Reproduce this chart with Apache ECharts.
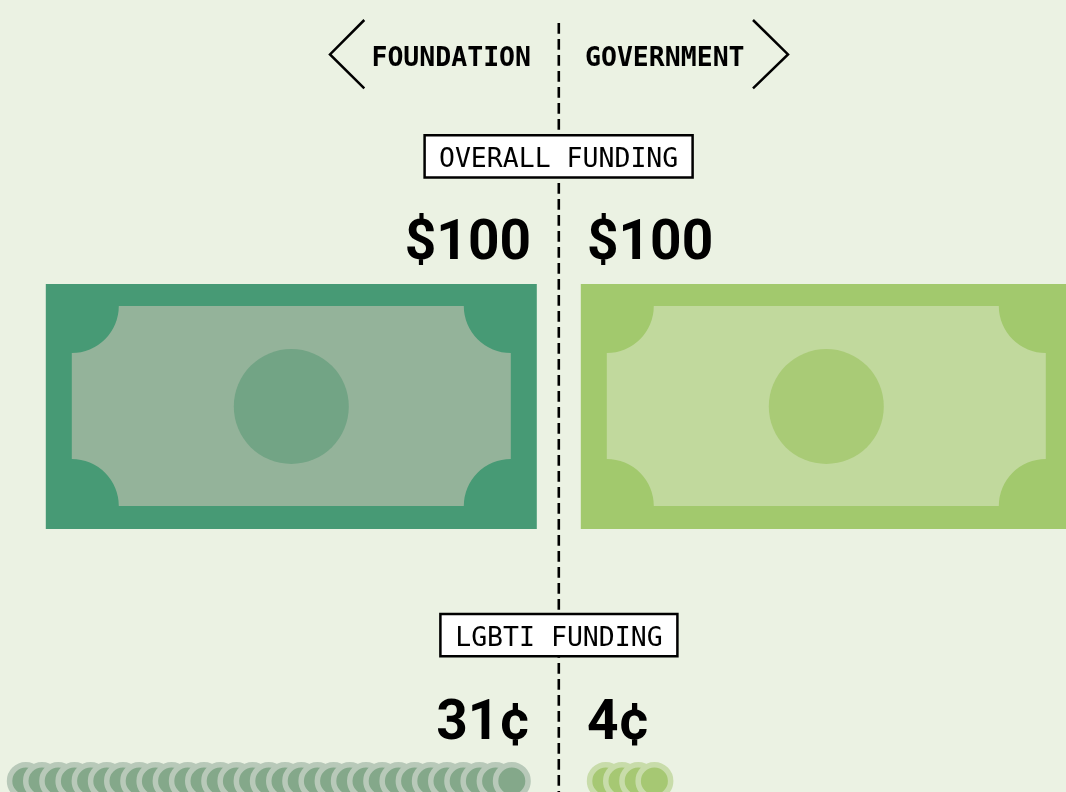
<!DOCTYPE html>
<html>
<head>
<meta charset="utf-8">
<title>Foundation vs government funding</title>
<style>
html,body{margin:0;padding:0;background:#ebf2e3;}
#chart{width:1066px;height:792px;}
</style>
<script src="https://cdn.jsdelivr.net/npm/echarts@6/dist/echarts.min.js"></script>
</head>
<body>
<div id="chart"></div>
<script>
// funders, left then right of the centre line
const funders=['FOUNDATION','GOVERNMENT'];
const sides=[-1,1];
// per $100 of overall funding
const overallDollars=[100,100];
// cents of that going to LGBTI work
const lgbtiCents=[31,4];
const sectionTitles=['OVERALL FUNDING','LGBTI FUNDING'];

const billColors=[
    {paper:'#479a75',inner:'#94b39a',seal:'#72a485'},
    {paper:'#a2c96d',inner:'#c1d99d',seal:'#a9cb76'}
];
const coinColors=[
    {fill:'#84a88a',ring:'#b8c9b9'},
    {fill:'#a6c873',ring:'#c8dcaa'}
];

const W=1066;
const midX=558.8;
const pxPerDollar=4.91;
const pxPerCoin=16.2;
const gapDollars=22/pxPerDollar;
const gapCoins=47/pxPerCoin;

const MONO='"DejaVu Sans Mono","Liberation Mono",monospace';
const ROBOTO='Roboto,sans-serif';

const chart=echarts.init(document.getElementById('chart'),null,{renderer:'canvas'});

// inner panel of a bill, corners bitten out with quarter circles
function panelPath(x,y,w,h,r){
    const arc=(ex,ey)=>`A${r} ${r} 0 0 0 ${ex} ${ey}`;
    return `M${x+r} ${y}L${x+w-r} ${y}${arc(x+w,y+r)}L${x+w} ${y+h-r}${arc(x+w-r,y+h)}`
        +`L${x+r} ${y+h}${arc(x,y+h-r)}L${x} ${y+r}${arc(x+r,y)}Z`;
}

// bills: side*gap out to side*(gap+value), everything inside scales with the width
function renderBill(params,api){
    const side=api.value(0);
    const val=api.value(1);
    const c=billColors[params.dataIndex];
    const a=api.coord([side*gapDollars,0]);
    const b=api.coord([side*(gapDollars+val),0]);
    const x=Math.min(a[0],b[0]);
    const w=Math.abs(a[0]-b[0]);
    const h=api.size([0,1])[1];
    const y=a[1]-h/2;
    const u=w/491;
    return {type:'group',children:[
        {type:'rect',shape:{x,y,width:w,height:h},style:{fill:c.paper}},
        {type:'path',shape:{pathData:panelPath(x+26*u,y+22*u,439*u,200*u,47*u)},style:{fill:c.inner}},
        {type:'circle',shape:{cx:x+w/2,cy:y+h/2,r:57.5*u},style:{fill:c.seal}}
    ]};
}

// one coin per cent, stacked outward from the centre line
function coinData(i){
    const pts=[];
    for(let n=0;n<lgbtiCents[i];n++){
        pts.push([sides[i]*(gapCoins+n),'coins']);
    }
    return pts.sort((p,q)=>p[0]-q[0]);
}

function coinSeries(i){
    return {
        type:'scatter',
        xAxisIndex:1,yAxisIndex:1,
        data:coinData(i),
        symbol:'circle',
        symbolSize:32.5,
        clip:false,
        silent:true,
        itemStyle:{color:coinColors[i].fill,borderColor:coinColors[i].ring,borderWidth:5.5,opacity:1}
    };
}

function txt(x,y,text,font,align){
    return {type:'text',x,y,z:20,style:{text,fill:'#000',font,textAlign:align,textVerticalAlign:'middle'}};
}
function box(x,y,w,h,title,textY){
    return [
        {type:'rect',z:6,shape:{x,y,width:w,height:h},style:{fill:'#fff',stroke:'#000',lineWidth:2.5}},
        txt(x+w/2,textY,title,'normal 26.5px '+MONO,'center')
    ];
}
function chevron(points){
    return {type:'polyline',z:10,shape:{points},style:{fill:null,stroke:'#000',lineWidth:2.5}};
}

const headFont='bold 26.5px '+MONO;
const valueFont='bold 55px '+ROBOTO;

const option={
    backgroundColor:'#ebf2e3',
    animation:false,
    grid:[
        {left:0,top:284,width:W,height:245},
        {left:0,top:770,width:W,height:22}
    ],
    xAxis:[
        {type:'value',gridIndex:0,min:-midX/pxPerDollar,max:(W-midX)/pxPerDollar,show:false},
        {type:'value',gridIndex:1,min:-midX/pxPerCoin,max:(W-midX)/pxPerCoin,show:false}
    ],
    yAxis:[
        {type:'category',gridIndex:0,data:['bill'],show:false},
        {type:'category',gridIndex:1,data:['coins'],show:false}
    ],
    series:[
        {
            type:'custom',
            xAxisIndex:0,yAxisIndex:0,
            silent:true,
            clip:true,
            renderItem:renderBill,
            encode:{x:1,y:2},
            data:overallDollars.map((v,i)=>[sides[i],v,'bill'])
        },
        coinSeries(0),
        coinSeries(1)
    ],
    graphic:{elements:[
        {type:'line',z:1,shape:{x1:midX,y1:23,x2:midX,y2:792},style:{stroke:'#000',lineWidth:2.6,lineDash:[10.7,5.3]}},
        chevron([[364.3,20],[330,54.4],[364.3,88.4]]),
        chevron([[753,20],[788,54.4],[753,88.4]]),
        txt(531,59.5,funders[0],headFont,'right'),
        txt(585,59.5,funders[1],headFont,'left'),
        ...box(424.6,135.3,268,42.2,sectionTitles[0],160),
        ...box(440.4,614,237,42.2,sectionTitles[1],639),
        txt(531,245,'$'+overallDollars[0],valueFont,'right'),
        txt(587,245,'$'+overallDollars[1],valueFont,'left'),
        txt(531,725,lgbtiCents[0]+'¢',valueFont,'right'),
        txt(587,725,lgbtiCents[1]+'¢',valueFont,'left')
    ]}
};
chart.setOption(option);
</script>
</body>
</html>
